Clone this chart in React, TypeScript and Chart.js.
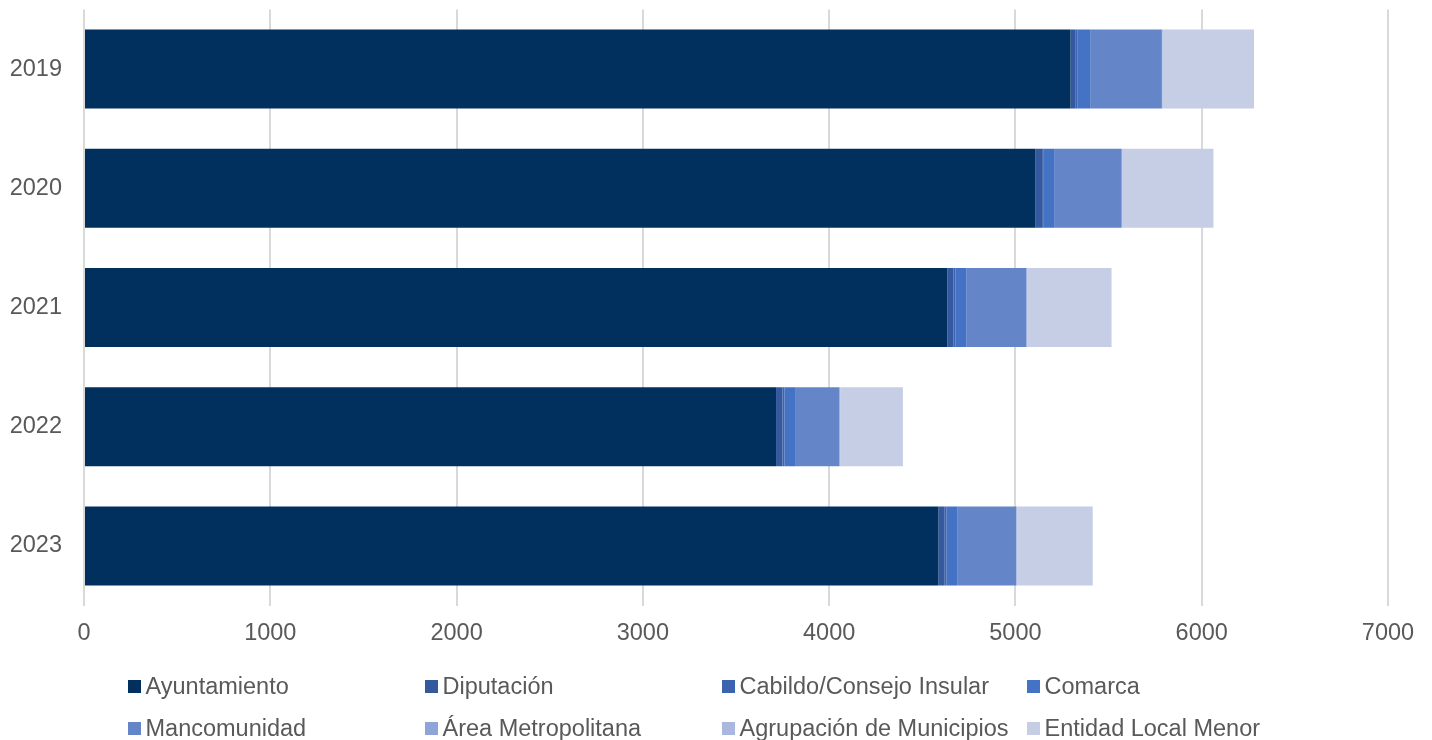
import React, { useEffect, useRef } from "react";
import { Chart, registerables } from "chart.js";

Chart.register(...registerables);

const years = ["2019", "2020", "2021", "2022", "2023"];
const seriesNames = [
  "Ayuntamiento",
  "Diputación",
  "Cabildo/Consejo Insular",
  "Comarca",
  "Mancomunidad",
  "Área Metropolitana",
  "Agrupación de Municipios",
  "Entidad Local Menor",
];
const ayuntamiento = [5296, 5108, 4634, 3715, 4586];
const diputacion = [25, 39, 34, 34, 32];
const cabildo = [11, 5, 11, 11, 11];
const comarca = [72, 59, 59, 57, 61];
const mancomunidad = [382, 359, 321, 238, 314];
const areaMetropolitana = [2, 2, 2, 2, 2];
const agrupacion = [3, 3, 3, 3, 3];
const entidadLocalMenor = [490, 488, 452, 336, 406];
const xTicks = [0, 1000, 2000, 3000, 4000, 5000, 6000, 7000];

const seriesValues = [
  ayuntamiento,
  diputacion,
  cabildo,
  comarca,
  mancomunidad,
  areaMetropolitana,
  agrupacion,
  entidadLocalMenor,
];
const colors = [
  "#01305F",
  "#34599E",
  "#3C63B0",
  "#4472C4",
  "#6485C8",
  "#8FA5D7",
  "#AAB8E0",
  "#C6CEE6",
];

const FONT = "'Liberation Sans', Arial, sans-serif";
const legendCols = [128, 425, 722, 1027];
const legendRows = [686.5, 728];

export default function App() {
  const ref = useRef<HTMLCanvasElement | null>(null);

  useEffect(() => {
    document.body.style.margin = "0";
    if (!ref.current) return;
    const chart = new Chart(ref.current, {
      type: "bar",
      data: {
        labels: years,
        datasets: seriesNames.map((name, i) => ({
          label: name,
          data: seriesValues[i],
          backgroundColor: colors[i],
          borderWidth: 0,
          barPercentage: 0.663,
          categoryPercentage: 1,
        })),
      },
      options: {
        indexAxis: "y",
        animation: false,
        responsive: false,
        maintainAspectRatio: false,
        layout: { padding: { top: 9.4, right: 44, bottom: 94.4, left: 0 } },
        plugins: {
          legend: { display: false },
          tooltip: { enabled: false },
        },
        scales: {
          x: {
            stacked: true,
            min: 0,
            max: 7000,
            afterBuildTicks: (scale: any) => {
              scale.ticks = xTicks.map((v) => ({ value: v }));
            },
            afterFit: (scale: any) => {
              scale.height = 40;
              scale.paddingLeft = 0;
              scale.paddingRight = 0;
            },
            grid: { color: "#D9D9D9", lineWidth: 2, drawTicks: false },
            border: { display: false },
            ticks: {
              padding: 14,
              color: "#595959",
              font: { family: FONT, size: 23.5 },
              callback: (v: any) => String(v),
            },
          },
          y: {
            stacked: true,
            afterFit: (scale: any) => {
              scale.width = 84;
              scale.paddingTop = 0;
              scale.paddingBottom = 0;
            },
            grid: { display: false, drawTicks: false },
            border: { display: false },
            ticks: {
              padding: 22,
              color: "#595959",
              font: { family: FONT, size: 23.5 },
            },
          },
        },
      },
    });
    return () => chart.destroy();
  }, []);

  return (
    <div style={{ position: "relative", width: 1432, height: 740, background: "#fff" }}>
      <canvas ref={ref} width={1432} height={740} style={{ display: "block" }} />
      {seriesNames.map((name, i) => {
        const col = i % 4;
        const row = Math.floor(i / 4);
        return (
          <div
            key={name}
            style={{
              position: "absolute",
              left: legendCols[col],
              top: legendRows[row] - 15,
              height: 30,
              display: "flex",
              alignItems: "center",
              whiteSpace: "nowrap",
              fontFamily: FONT,
              fontSize: 23.5,
              color: "#595959",
            }}
          >
            <span
              style={{
                display: "inline-block",
                width: 13,
                height: 13,
                background: colors[i],
                marginRight: 4.5,
              }}
            />
            <span>{name}</span>
          </div>
        );
      })}
    </div>
  );
}
